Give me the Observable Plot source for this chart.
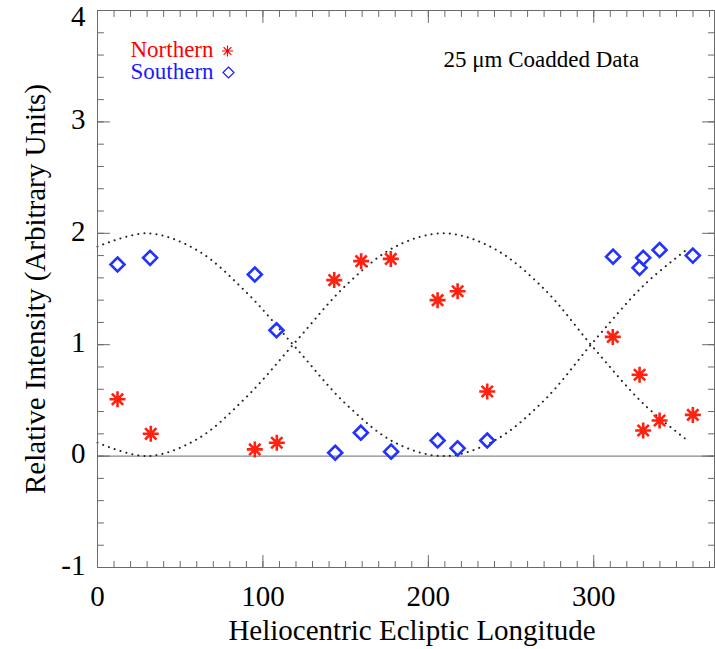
<!DOCTYPE html>
<html>
<head>
<meta charset="utf-8">
<script src="https://cdn.jsdelivr.net/npm/d3@7"></script>
<script src="https://cdn.jsdelivr.net/npm/@observablehq/plot@0.6"></script>
<style>
  html, body { margin: 0; padding: 0; background: #fff; }
  #chart { width: 715px; height: 649px; }
</style>
</head>
<body>
<div id="chart"></div>
<script>
// ---- Data ----
const northernLon = [12.1, 32.2, 95.1, 108.4, 143.1, 159.4, 177.3, 205.6, 217.7, 235.6, 311.5, 327.7, 329.9, 339.8, 359.9];
const northernVal = [0.51, 0.20, 0.06, 0.12, 1.58, 1.75, 1.77, 1.40, 1.48, 0.58, 1.07, 0.73, 0.23, 0.32, 0.37];

const southernLon = [12.1, 31.8, 95.1, 108.2, 143.7, 159.2, 177.5, 205.6, 217.7, 235.6, 311.7, 327.7, 329.9, 339.8, 359.9];
const southernVal = [1.72, 1.78, 1.63, 1.13, 0.03, 0.21, 0.04, 0.14, 0.07, 0.14, 1.79, 1.69, 1.78, 1.85, 1.80];

// dotted model curves
const curveLon = [0, 30, 60, 90, 120, 150, 180, 210, 240, 270, 300, 330, 355];
const curveA   = [1.88, 2.00, 1.85, 1.47, 0.97, 0.47, 0.12, 0.00, 0.14, 0.50, 1.03, 1.53, 1.84];
const curveB   = [0.12, 0.00, 0.15, 0.53, 1.03, 1.53, 1.88, 2.00, 1.86, 1.50, 0.97, 0.47, 0.16];

const xMajor = [0, 100, 200, 300];
const yMajor = [-1, 0, 1, 2, 3, 4];
const xMinor = d3.range(0, 371, 10);
const yMinor = d3.range(-1, 4.001, 0.2).map(v => +v.toFixed(1));

const legendLabels = ["Northern", "Southern"];
const noteText = "25 \u03BCm Coadded Data";
const xLabel = "Heliocentric Ecliptic Longitude";
const yLabel = "Relative Intensity (Arbitrary Units)";

// ---- Build tables ----
const northern = northernLon.map((x, i) => ({x, y: northernVal[i]}));
const southern = southernLon.map((x, i) => ({x, y: southernVal[i]}));
const curves = [
  ...curveLon.map((x, i) => ({x, y: curveA[i], c: "A"})),
  ...curveLon.map((x, i) => ({x, y: curveB[i], c: "B"}))
];
const yTop = yMajor[yMajor.length - 1];

const RED = "#ff2210";
const BLUE = "#2233ff";
const AX = "#6a6a6a";
const FONT = "'Liberation Serif', 'Times New Roman', serif";

const asterisk = {
  draw(ctx, size) {
    const r = Math.sqrt(size / Math.PI);
    const d = r * Math.SQRT1_2;
    ctx.moveTo(-r, 0); ctx.lineTo(r, 0);
    ctx.moveTo(0, -r); ctx.lineTo(0, r);
    ctx.moveTo(-d, -d); ctx.lineTo(d, d);
    ctx.moveTo(-d, d); ctx.lineTo(d, -d);
  }
};
const diamond = {
  draw(ctx, size) {
    const r = Math.sqrt(size / Math.PI);
    ctx.moveTo(0, -r); ctx.lineTo(r, 0); ctx.lineTo(0, r); ctx.lineTo(-r, 0); ctx.closePath();
  }
};
const tickShape = { draw(ctx, l) { ctx.moveTo(0, 0); ctx.lineTo(0, -l); } };

const tickMarks = (vals, isX, len, anchor, rot) =>
  Plot.vector(vals, {
    [isX ? "x" : "y"]: d => d,
    frameAnchor: anchor, length: len, rotate: rot, anchor: "start",
    shape: tickShape, stroke: AX, strokeWidth: 1
  });

const chart = Plot.plot({
  width: 715,
  height: 649,
  marginLeft: 97,
  marginRight: 1,
  marginTop: 10,
  marginBottom: 82,
  x: {domain: [0, 373], axis: null},
  y: {domain: [-1, 4], axis: null},
  style: {fontFamily: FONT, color: "black", background: "white"},
  marks: [
    Plot.ruleY([0], {stroke: AX, strokeWidth: 1}),
    Plot.line(curves, {x: "x", y: "y", z: "c", curve: "catmull-rom", stroke: "#222",
      strokeWidth: 2, strokeDasharray: "0.1 6", strokeLinecap: "round"}),
    Plot.dot(southern, {x: "x", y: "y", symbol: diamond, r: 7, stroke: BLUE, strokeWidth: 2.6, fill: "none"}),
    Plot.dot(northern, {x: "x", y: "y", symbol: asterisk, r: 8, stroke: RED, strokeWidth: 2.6}),
    // ticks (inward) on all four sides
    tickMarks(xMinor, true, 6, "bottom", 0),
    tickMarks(xMajor, true, 12, "bottom", 0),
    tickMarks(xMinor, true, 6, "top", 180),
    tickMarks(xMajor, true, 12, "top", 180),
    tickMarks(yMinor, false, 6, "left", 90),
    tickMarks(yMajor, false, 12, "left", 90),
    tickMarks(yMinor, false, 6, "right", -90),
    tickMarks(yMajor, false, 12, "right", -90),
    Plot.frame({stroke: AX, strokeWidth: 1}),
    // tick labels
    Plot.text(xMajor, {x: d => d, frameAnchor: "bottom", lineAnchor: "middle", dy: 29, fontSize: 29, fill: "black", text: d => String(d)}),
    Plot.text(yMajor.filter(v => v !== yTop), {y: d => d, frameAnchor: "left", lineAnchor: "middle", dx: -12, dy: -2, textAnchor: "end", fontSize: 29, fill: "black", text: d => String(d)}),
    Plot.text([yTop], {y: d => d, frameAnchor: "left", lineAnchor: "middle", dx: -12, dy: 6, textAnchor: "end", fontSize: 29, fill: "black", text: d => String(d)}),
    // axis titles
    Plot.text([xLabel], {frameAnchor: "bottom", lineAnchor: "middle", textAnchor: "middle", dy: 63, dx: 6, fontSize: 29, fill: "black"}),
    Plot.text([yLabel], {frameAnchor: "left", lineAnchor: "middle", textAnchor: "middle", dx: -62, rotate: -90, fontSize: 29, fill: "black"}),
    // legend
    Plot.text([legendLabels[0]], {frameAnchor: "top-left", lineAnchor: "middle", dx: 33, dy: 39.5, textAnchor: "start", fontSize: 23, fill: "#ff0000"}),
    Plot.text([legendLabels[1]], {frameAnchor: "top-left", lineAnchor: "middle", dx: 33, dy: 61.5, textAnchor: "start", fontSize: 23, fill: "#1a1aff"}),
    Plot.dot([0], {frameAnchor: "top-left", dx: 130, dy: 40.5, symbol: asterisk, r: 5.5, stroke: "#ff0000", strokeWidth: 1.2}),
    Plot.dot([0], {frameAnchor: "top-left", dx: 131, dy: 62, symbol: diamond, r: 5.5, stroke: "#1a1aff", strokeWidth: 1.2, fill: "none"}),
    Plot.text([noteText], {frameAnchor: "top-left", lineAnchor: "middle", dx: 346, dy: 49, textAnchor: "start", fontSize: 23, fill: "black"})
  ]
});

document.getElementById("chart").appendChild(chart);
</script>
</body>
</html>
